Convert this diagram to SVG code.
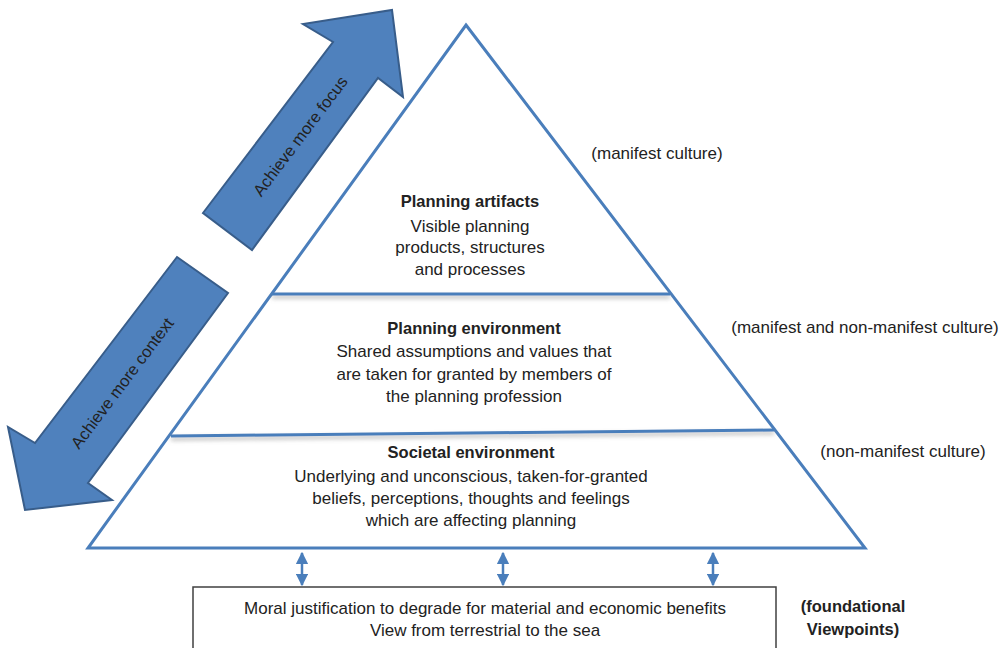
<svg xmlns="http://www.w3.org/2000/svg" width="1005" height="648" viewBox="0 0 1005 648">
  <style>
    text { font-family: "Liberation Sans", Arial, sans-serif; fill: #222; }
    .t { font-size: 17px; text-anchor: middle; }
    .b { font-size: 16.5px; font-weight: bold; text-anchor: middle; }
    .side { font-size: 17px; text-anchor: middle; }
    .arrowlbl { font-size: 16.5px; text-anchor: middle; dominant-baseline: central; }
    .tri { fill: #ffffff; stroke: #4a7ebb; stroke-width: 3; stroke-linejoin: miter; }
    .layer { stroke: #4a7ebb; stroke-width: 3; filter: url(#sh); }
    .big { fill: #4f81bd; stroke: #385d8a; stroke-width: 2; stroke-linejoin: miter; }
    .conn { stroke: #4a7ebb; stroke-width: 2.5; fill: none; marker-start: url(#ah); marker-end: url(#ah); }
    .box { fill: #ffffff; stroke: #404040; stroke-width: 1.5; }
  </style>
  <defs>
    <filter id="sh" filterUnits="userSpaceOnUse" x="0" y="0" width="1005" height="648">
      <feDropShadow dx="0" dy="3" stdDeviation="2" flood-color="#808080" flood-opacity="0.55"/>
    </filter>
    <marker id="ah" viewBox="0 0 10 10" refX="9" refY="5" markerWidth="5" markerHeight="5" orient="auto-start-reverse" markerUnits="strokeWidth">
      <path d="M0,0 L10,5 L0,10 Z" fill="#4a7ebb"/>
    </marker>
  </defs>

  <rect width="1005" height="648" fill="#ffffff"/>

  <g id="arrow-focus">
    <polygon class="big" points="203,213 333,42 303,24 392,10 403,97 378,78 252,250"/>
    <text class="arrowlbl" transform="translate(300,136) rotate(-53)">Achieve more focus</text>
  </g>

  <g id="arrow-context">
    <polygon class="big" points="177,257 228,293 88,483 112,500 25,510 8,427 35,443"/>
    <text class="arrowlbl" transform="translate(122,383) rotate(-53)">Achieve more context</text>
  </g>

  <g id="pyramid">
    <polygon class="tri" points="466,25 865,548 88,548"/>
    <line class="layer" x1="272" y1="294" x2="670" y2="294"/>
    <line class="layer" x1="171" y1="436" x2="774" y2="430"/>
  </g>

  <g id="layer-artifacts">
    <text class="b" x="470" y="207">Planning artifacts</text>
    <text class="t" x="470" y="232">Visible planning</text>
    <text class="t" x="470" y="253">products, structures</text>
    <text class="t" x="470" y="275">and processes</text>
  </g>

  <g id="layer-planning-env">
    <text class="b" x="474" y="334">Planning environment</text>
    <text class="t" x="474" y="357">Shared assumptions and values that</text>
    <text class="t" x="474" y="380">are taken for granted by members of</text>
    <text class="t" x="474" y="402">the planning profession</text>
  </g>

  <g id="layer-societal-env">
    <text class="b" x="471" y="458">Societal environment</text>
    <text class="t" x="471" y="482">Underlying and unconscious, taken-for-granted</text>
    <text class="t" x="471" y="504">beliefs, perceptions, thoughts and feelings</text>
    <text class="t" x="471" y="526">which are affecting planning</text>
  </g>

  <g id="side-labels">
    <text class="side" x="657" y="159">(manifest culture)</text>
    <text class="side" x="865" y="333">(manifest and non-manifest culture)</text>
    <text class="side" x="903" y="457">(non-manifest culture)</text>
  </g>

  <g id="connectors">
    <line class="conn" x1="302" y1="553" x2="302" y2="585"/>
    <line class="conn" x1="503" y1="553" x2="503" y2="585"/>
    <line class="conn" x1="713" y1="553" x2="713" y2="585"/>
  </g>

  <g id="foundation-box">
    <rect class="box" x="193" y="587" width="583" height="70"/>
    <text class="t" x="485" y="614">Moral justification to degrade for material and economic benefits</text>
    <text class="t" x="485" y="636">View from terrestrial to the sea</text>
  </g>

  <g id="foundation-label">
    <text class="b" x="853" y="612">(foundational</text>
    <text class="b" x="853" y="635">Viewpoints)</text>
  </g>
</svg>
